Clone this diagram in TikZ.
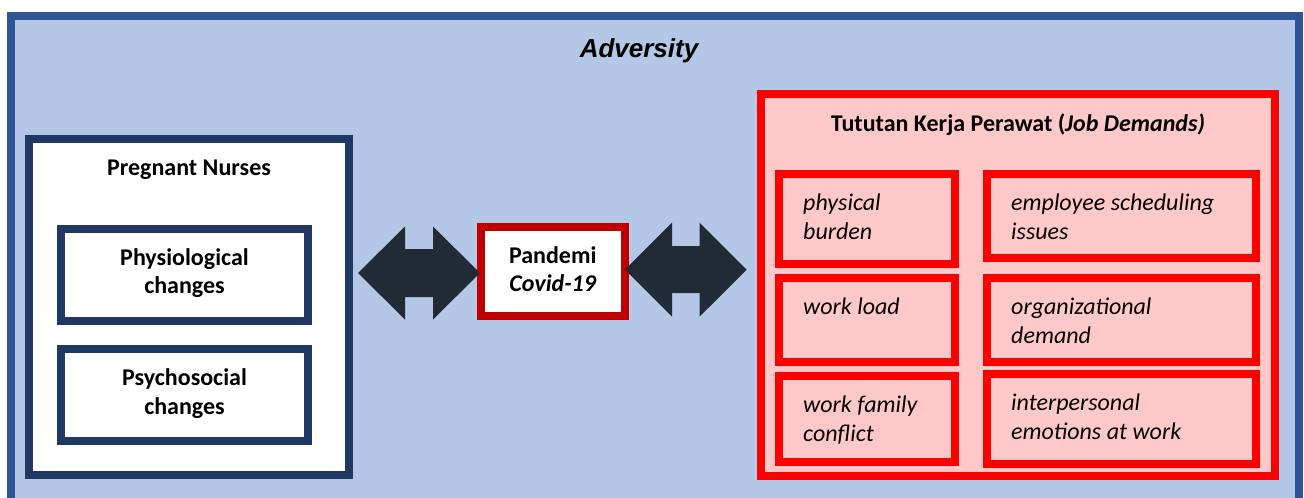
\documentclass[tikz,border=0pt]{standalone}
\usepackage{fontspec}
\setmainfont{Carlito}
\newfontfamily\arialfont{Liberation Sans}
\definecolor{framefill}{HTML}{B4C7E7}
\definecolor{framedraw}{HTML}{2F5597}
\definecolor{navy}{HTML}{203864}
\definecolor{darkred}{HTML}{C00000}
\definecolor{pinkfill}{HTML}{FFC9C9}
\definecolor{arrowfill}{HTML}{222A35}
\tikzset{
  navybox/.style={draw=navy, line width=8pt, fill=white, inner sep=0pt},
  covidbox/.style={draw=darkred, line width=8pt, fill=white, inner sep=0pt},
  redbox/.style={draw=red, line width=8pt, fill=pinkfill, inner sep=0pt},
  bigtxt/.style={inner sep=0pt, anchor=base, font=\fontsize{24}{29}\selectfont\bfseries},
  itxt/.style={inner sep=0pt, anchor=base west, font=\fontsize{24}{29}\selectfont\itshape},
  blockarrow/.style={fill=arrowfill, draw=none}
}
\begin{document}
\begin{tikzpicture}[x=1pt,y=-1pt]
\useasboundingbox (0,0) rectangle (1304,498);
\clip (0,0) rectangle (1304,498);
% outer frame
\draw[draw=framedraw, fill=framefill, line width=8pt] (11,15.5) rectangle (1299,512);
\node[inner sep=0pt, anchor=base, font=\arialfont\fontsize{26}{30}\selectfont\bfseries\itshape] (adv) at (639,57) {Adversity};
% left: pregnant nurses
\node[navybox, minimum width=320pt, minimum height=335.5pt] (preg) at (189,306.75) {};
\node[bigtxt] (pregt) at (189,175) {Pregnant Nurses};
\node[navybox, minimum width=247pt, minimum height=91.5pt] (physio) at (184.5,274.75) {};
\node[bigtxt] (physioa) at (184.5,265) {Physiological};
\node[bigtxt] (physiob) at (184.5,293.3) {changes};
\node[navybox, minimum width=247pt, minimum height=92pt] (psycho) at (184.5,395) {};
\node[bigtxt] (psychoa) at (184.5,385.5) {Psychosocial};
\node[bigtxt] (psychob) at (184.5,414) {changes};
% centre: pandemic
\node[covidbox, minimum width=143.5pt, minimum height=89.5pt] (covid) at (552.75,271.25) {};
\node[bigtxt] (covida) at (552.75,263.3) {Pandemi};
\node[bigtxt, font=\fontsize{24}{29}\selectfont\bfseries\itshape] (covidb) at (552.75,291.7) {Covid-19};
% right: job demands
\node[redbox, minimum width=514pt, minimum height=381.5pt] (jd) at (1018,284.75) {};
\node[bigtxt] (jdt) at (1018,131) {Tututan Kerja Perawat (\textit{Job Demands)}};
\node[redbox, minimum width=176pt, minimum height=90pt] (b11) at (867,219) {};
\node[redbox, minimum width=268.5pt, minimum height=84pt] (b12) at (1121.25,216) {};
\node[redbox, minimum width=176pt, minimum height=84pt] (b21) at (867,320) {};
\node[redbox, minimum width=268.5pt, minimum height=84pt] (b22) at (1121.25,320) {};
\node[redbox, minimum width=176pt, minimum height=86pt] (b31) at (867,419) {};
\node[redbox, minimum width=268.5pt, minimum height=90pt] (b32) at (1121.25,419) {};
\node[itxt] (t11a) at (803,210) {physical};
\node[itxt] (t11b) at (803,239) {burden};
\node[itxt] (t12a) at (1011,210) {employee scheduling};
\node[itxt] (t12b) at (1011,239) {issues};
\node[itxt] (t21a) at (803,314.3) {work load};
\node[itxt] (t22a) at (1011,314.3) {organizational};
\node[itxt] (t22b) at (1011,343.3) {demand};
\node[itxt] (t31a) at (803,412.3) {work family};
\node[itxt] (t31b) at (803,441.7) {conflict};
\node[itxt] (t32a) at (1011,410) {interpersonal};
\node[itxt] (t32b) at (1011,439) {emotions at work};
% double block arrows
\fill[blockarrow] (358,273) -- (405,226.5) -- (405,249) -- (433,249) -- (433,226.5) -- (480,273)
  -- (433,319.5) -- (433,297) -- (405,297) -- (405,319.5) -- cycle;
\fill[blockarrow] (625,269.7) -- (672,222.7) -- (672,246.2) -- (699.5,246.2) -- (699.5,222.7) -- (746.7,269.7)
  -- (699.5,316.7) -- (699.5,293.2) -- (672,293.2) -- (672,316.7) -- cycle;
\end{tikzpicture}
\end{document}
